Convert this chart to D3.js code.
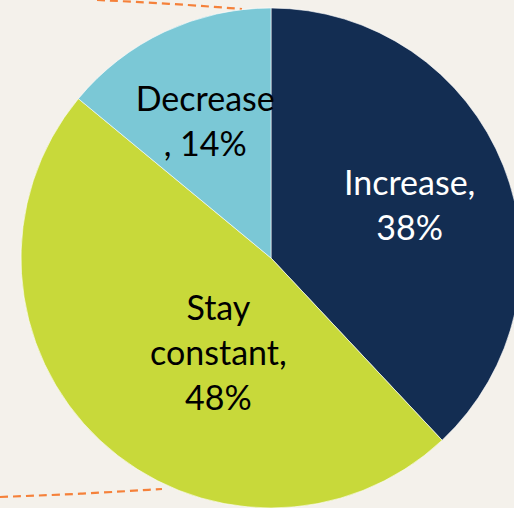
<!DOCTYPE html>
<html>
<head>
<meta charset="utf-8">
<script src="https://cdn.jsdelivr.net/npm/d3@7"></script>
<style>
  html, body { margin: 0; padding: 0; background: #f4f1eb; overflow: hidden; }
  svg { display: block; }
</style>
</head>
<body>
<div id="viz"></div>
<script>
// slices go clockwise from 12 o'clock
const categories = ['Increase', 'Stay constant', 'Decrease'];
const values = [38, 48, 14];
const label_lines = [['Increase,', '38%'], ['Stay', 'constant,', '48%'], ['Decrease', ', 14%']];

const COLORS = {
  slices: ['#132d52', '#c8d93a', '#7bc8d6'],
  text: ['#ffffff', '#000000', '#000000'],
  bg: '#f4f1eb',
  callout: '#f5813a'
}
const LAYOUT = {
  width: 514,
  height: 508,
  cx: 271,
  cy: 258,
  radius: 250,
  font_size: 34,
  line_height: 45,
  // label anchor: fraction of radius along mid angle, then a small nudge
  label_r: [0.58, 0.47, 0.57],
  label_angle_shift: [0.08, -0.29, -0.04]
}

const width = LAYOUT.width;
const height = LAYOUT.height;

const svg = d3.select('#viz').append('svg')
  .attr('width', width)
  .attr('height', height);

svg.append('rect')
  .attr('width', width)
  .attr('height', height)
  .attr('fill', COLORS.bg);

// leftover callout lines from the slide (dashed, orange)
const callouts = [
  [[97, 0], [170, 3.5], [242, 9]],
  [[0, 497], [80, 494], [162, 489]]
];
const line = d3.line().curve(d3.curveBasis);
svg.selectAll('.callout')
  .data(callouts)
  .enter()
  .append('path')
  .classed('callout', true)
  .attr('d', line)
  .attr('fill', 'none')
  .attr('stroke', COLORS.callout)
  .attr('stroke-width', 2.2)
  .attr('stroke-dasharray', '8,5');

const pie = d3.pie().sort(null).value(d => d.value);
const data = categories.map((c, i) => ({ name: c, value: values[i], lines: label_lines[i], i }));
const arcs = pie(data);

const arc = d3.arc().innerRadius(0).outerRadius(LAYOUT.radius);

const g = svg.append('g')
  .attr('transform', `translate(${LAYOUT.cx}, ${LAYOUT.cy})`);

g.selectAll('.slice')
  .data(arcs)
  .enter()
  .append('path')
  .classed('slice', true)
  .attr('d', arc)
  .attr('fill', d => COLORS.slices[d.data.i])
  .attr('stroke', '#ffffff')
  .attr('stroke-width', 0.6);

function label_pos(d) {
  const k = d.data.i;
  const a = (d.startAngle + d.endAngle) / 2 + LAYOUT.label_angle_shift[k];
  const r = LAYOUT.radius * LAYOUT.label_r[k];
  return [Math.sin(a) * r, -Math.cos(a) * r];
}

const labels = g.selectAll('.label')
  .data(arcs)
  .enter()
  .append('text')
  .classed('label', true)
  .attr('text-anchor', 'middle')
  .attr('font-family', 'Lato, "Open Sans", sans-serif')
  .attr('font-size', LAYOUT.font_size)
  .attr('fill', d => COLORS.text[d.data.i])
  .attr('transform', d => `translate(${label_pos(d)})`);

labels.selectAll('tspan')
  .data(d => d.data.lines.map((t, j, all) => ({ t, j, n: all.length })))
  .enter()
  .append('tspan')
  .attr('x', 0)
  .attr('y', d => (d.j - (d.n - 1) / 2) * LAYOUT.line_height + LAYOUT.font_size * 0.06)
  .text(d => d.t);
</script>
</body>
</html>
